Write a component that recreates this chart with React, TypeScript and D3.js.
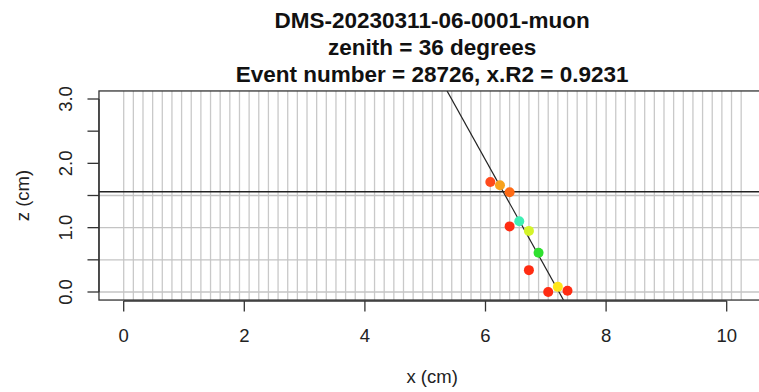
import React from "react";
import * as d3 from "d3";

// ---- data ----
const titleLines = [
  "DMS-20230311-06-0001-muon",
  "zenith = 36 degrees",
  "Event number = 28726, x.R2 = 0.9231",
];
const xTicks = [0, 2, 4, 6, 8, 10];
const yTicks = [0, 0.5, 1, 1.5, 2, 2.5, 3];
const yTickLabels = ["0.0", "", "1.0", "", "2.0", "", "3.0"];
const hitX = [6.08, 6.24, 6.4, 6.4, 6.56, 6.72, 6.88, 6.72, 7.04, 7.2, 7.36];
const hitZ = [1.71, 1.66, 1.55, 1.02, 1.1, 0.95, 0.61, 0.34, 0.0, 0.08, 0.02];
const hitColor = [
  "#ff4a1c", "#f7a21e", "#ff6a14", "#ff2c12", "#3ef0b4", "#d4f42a",
  "#2fe02f", "#ff2c12", "#ff2c12", "#ffe61a", "#ff2c12",
];
const stripPitch = 0.16;
const stripCount = 65;
const layerZ = [0, 0.5, 1.0, 1.5];
const boundaryZ = 1.56;
const fitIntercept = 7.219; // x at z = 0
const fitSlope = -0.594; // dx/dz
const xLim = [-0.41, 10.64];
const zLim = [-0.125, 3.125];

export default function App() {
  const W = 759, H = 392;
  const x = d3.scaleLinear().domain([0, 10]).range([123.7, 726.7]);
  const y = d3.scaleLinear().domain([0, 3]).range([292, 99]);
  const left = x(xLim[0]), right = x(xLim[1]);
  const top = y(zLim[1]), bottom = y(zLim[0]);
  const font = "'Liberation Sans', Arial, Helvetica, sans-serif";
  const strips = d3.range(stripCount).map((i) => i * stripPitch);
  const fitLine = d3.line<number>().x((z) => x(fitIntercept + fitSlope * z)).y((z) => y(z));
  const cx = (left + right) / 2;
  const cy = (top + bottom) / 2;

  return (
    <svg width={W} height={H} style={{ position: "absolute", left: 0, top: 0, background: "#fff" }} fontFamily={font}>
      <defs>
        <clipPath id="plotclip">
          <rect x={left} y={top} width={right - left} height={bottom - top} />
        </clipPath>
      </defs>
      <rect x={0} y={0} width={W} height={H} fill="#fff" />
      {/* title */}
      {titleLines.map((t, i) => (
        <text key={i} x={cx} y={27.5 + i * 27} textAnchor="middle" fontWeight="bold" fontSize={22.5} fill="#111">
          {t}
        </text>
      ))}
      <g clipPath="url(#plotclip)">
        {strips.map((s, i) => (
          <line key={"v" + i} x1={x(s)} x2={x(s)} y1={top} y2={bottom} stroke="#c9c9c9" strokeWidth={1.3} />
        ))}
        {layerZ.map((z, i) => (
          <line key={"h" + i} x1={left} x2={right} y1={y(z)} y2={y(z)} stroke="#c4c4c4" strokeWidth={1.3} />
        ))}
        <line x1={left} x2={right} y1={y(boundaryZ)} y2={y(boundaryZ)} stroke="#222" strokeWidth={1.5} />
        <path d={fitLine([zLim[0], zLim[1]]) || ""} stroke="#222" strokeWidth={1.2} fill="none" />
        {hitX.map((hx, i) => (
          <circle key={"p" + i} cx={x(hx)} cy={y(hitZ[i])} r={5} fill={hitColor[i]} />
        ))}
      </g>
      {/* box */}
      <rect x={left} y={top} width={right - left} height={bottom - top} fill="none" stroke="#333" strokeWidth={1.3} />
      {/* x axis */}
      <line x1={x(0)} x2={x(10)} y1={301} y2={301} stroke="#333" strokeWidth={1.3} />
      {xTicks.map((t) => (
        <g key={"xt" + t}>
          <line x1={x(t)} x2={x(t)} y1={301} y2={311.5} stroke="#333" strokeWidth={1.3} />
          <text x={x(t)} y={341.5} textAnchor="middle" fontSize={18.5} fill="#222">{t}</text>
        </g>
      ))}
      <text x={cx} y={383} textAnchor="middle" fontSize={18.5} fill="#222">x (cm)</text>
      {/* y axis */}
      <line x1={left} x2={left} y1={y(0)} y2={y(3)} stroke="#333" strokeWidth={1.3} />
      {yTicks.map((t, i) => (
        <g key={"yt" + i}>
          <line x1={left} x2={left - 11.5} y1={y(t)} y2={y(t)} stroke="#333" strokeWidth={1.3} />
          {yTickLabels[i] && (
            <text transform={`translate(71.5,${y(t)}) rotate(-90)`} textAnchor="middle" fontSize={18.5} fill="#222">
              {yTickLabels[i]}
            </text>
          )}
        </g>
      ))}
      <text transform={`translate(29,${cy}) rotate(-90)`} textAnchor="middle" fontSize={18.5} fill="#222">z (cm)</text>
    </svg>
  );
}
